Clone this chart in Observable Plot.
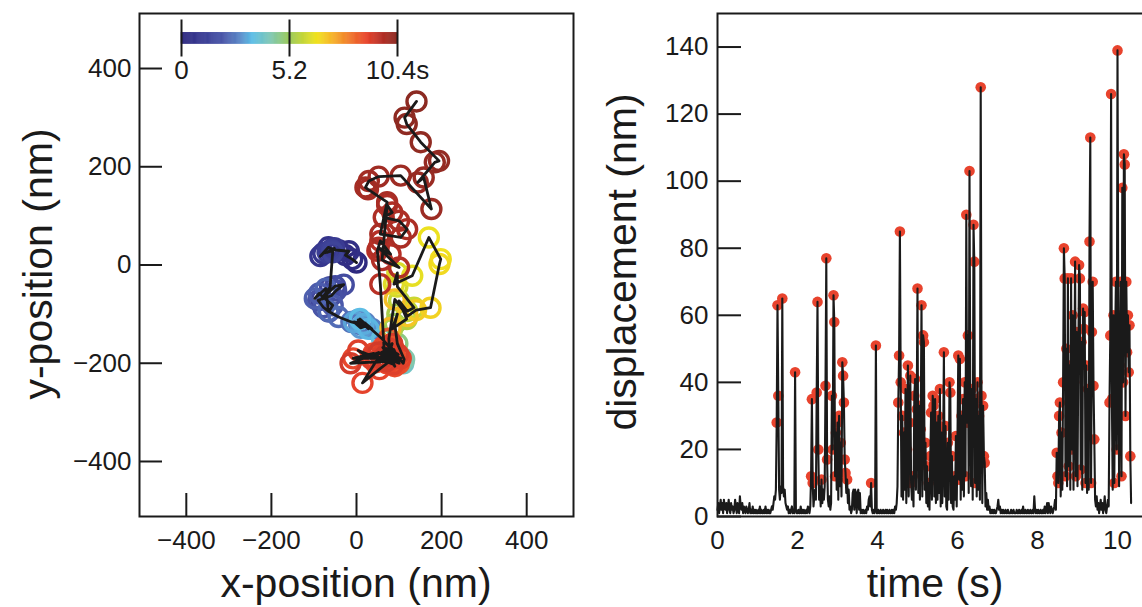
<!DOCTYPE html>
<html><head><meta charset="utf-8">
<script src="https://cdn.jsdelivr.net/npm/d3@7"></script>
<script src="https://cdn.jsdelivr.net/npm/@observablehq/plot@0.6"></script>
<style>
html,body{margin:0;padding:0;background:#fff;}
#root{position:relative;width:1142px;height:607px;overflow:hidden;font-family:"Liberation Sans",Arial,sans-serif;color:#1a1a1a;}
.title{position:absolute;font-size:41px;line-height:41px;white-space:nowrap;transform:translate(-50%,-50%);}
.vt{transform:translate(-50%,-50%) rotate(-90deg);}
</style></head><body><div id="root"></div>
<script>
// ---------- colour bar (time, s) ----------
const cbStops  = [0, 0.1, 0.2, 0.27, 0.33, 0.42, 0.5, 0.57, 0.63, 0.7, 0.78, 0.86, 0.93, 1];
const cbColors = ["#2f2a80","#3a3c93","#4c5aab","#5a86c6","#5cbde6","#82c8b0","#98c85a","#c6d636","#f0e21e","#f6b42a","#f07a2c","#e8442c","#b52f26","#8c2a22"];
const cbMax = 10.4;
const cbTicks = [0, 5.2, 10.4];
const cbLabels = ["0", "5.2", "10.4s"];

// ---------- trajectory (nm) ----------
const posT = [0,0.1,0.2,0.3,0.4,0.5,0.6,0.7,0.8,0.9,1.0,1.1,1.2,1.3,
 1.4,1.47,1.54,1.61,1.68,1.75,1.82,1.89,1.96,2.03,2.1,2.17,2.24,2.31,2.38,2.45,2.52,2.59,2.66,
 2.75,2.85,2.95,3.05,3.15,3.25,3.35,3.45,
 3.6,4.0,4.4,4.8,5.2,
 5.5,5.6,5.7,5.8,5.9,6.0,6.1,6.2,6.3,6.4,6.5,6.6,6.7,6.8,6.9,7.0,7.1,7.2,
 8.6,8.62,8.64,8.66,8.68,8.7,8.72,8.74,8.76,8.78,8.8,8.82,8.84,8.86,8.88,8.9,8.92,8.94,8.96,8.98,9.0,9.02,9.04,9.06,9.08,9.1,9.12,9.14,9.16,9.18,9.2,9.22,9.24,9.26,9.28,
 9.62,9.64,9.66,9.68,9.7,9.72,9.74,9.76,9.78,9.8,9.82,9.84,9.86,9.88,9.9,
 9.93,9.97,10.0,10.04,10.08,10.12,10.16,10.2,10.24,10.28,10.31,10.34,10.37,10.4];
const posXY = [[0,5],[-10,12],[-26,20],[-18,28],[-42,30],[-57,32],[-66,36],[-85,18],[-78,24],[-60,28],[-52,34],[-68,26],[-58,30],[-56,26],
 [-62,-45],[-83,-70],[-50,-43],[-30,-40],[-48,-52],[-58,-62],[-90,-72],[-78,-86],[-65,-95],[-56,-82],[-88,-58],[-98,-68],[-72,-48],[-66,-94],[-42,-106],[-12,-116],[6,-120],[24,-126],[36,-130],
 [20,-118],[4,-112],[22,-124],[10,-128],[-6,-116],[16,-120],[28,-130],[8,-110],
 [60,-150],[110,-200],[112,-192],[96,-160],[90,-120],
 [96,-100],[84,-130],[118,-110],[100,-73],[119,-94],[135,-87],[96,-44],[96,-16],[88,-39],[131,-22],[170,56],[198,12],[195,2],[174,-87],[140,-92],[120,-104],[90,-70],[80,-128],
 [76,-150],[78,-180],[70,-170],[92,-188],[64,-196],[88,-172],[100,-200],[58,-186],[80,-164],[96,-194],[44,-198],[76,-178],[90,-206],[62,-168],[84,-190],[-8,-190],[40,-180],[72,-200],[54,-212],[14,-240],[46,-196],[80,-184],[104,-190],[66,-176],[86,-202],[4,-174],[34,-190],[76,-170],[98,-182],[60,-192],[84,-160],[70,-196],[-14,-200],[52,-178],[66,-186],
 [56,-39],[49,29],[56,49],[80,22],[52,35],[100,-5],[60,10],[72,122],[84,107],[64,97],[100,90],[119,73],[104,56],[56,63],[72,128],
 [27,154],[21,158],[29,171],[52,180],[104,182],[176,114],[158,178],[144,168],[184,209],[194,212],[151,250],[118,287],[113,300],[141,333]];
const xTicksL = [-400,-200,0,200,400];
const yTicksL = [-400,-200,0,200,400];

// ---------- displacement (nm), one sample every 0.02 s ----------
const dt = 0.02;
const disp0 = [2,4,1,3,5,2,4,1,5,3,2,4,1,3,5,2,1,4,2,3,1,2,5,3,1,4,2,1,6,3,2,4,1,3,2,1,3,2,1,2,4,1,2,1,3,1,2,1,2,1];
const disp1 = [1,2,1,3,1,2,1,1,2,1,3,1,2,1,2,1,1,2,3,2,4,6,5,8,28,63,36,8,5,9,7,65,9,6,8,4,3,2,3,1,2,1,2,3,1,2,1,43,2,1];
const disp2 = [1,2,1,1,3,1,2,1,2,1,1,2,1,3,2,1,3,12,35,10,3,6,8,5,37,64,20,5,9,3,11,4,8,5,9,39,77,17,5,3,6,2,4,36,20,66,58,12,25,8];
const disp3 = [28,5,30,9,22,6,46,42,34,17,13,7,11,4,8,2,3,1,2,7,8,2,8,7,1,7,8,2,7,1,2,1,2,1,1,2,1,3,2,5,6,3,10,2,1,2,1,2,51,1];
const disp4 = [1,2,1,1,2,1,1,2,1,1,2,1,2,1,1,2,1,1,2,1,2,1,3,2,4,9,34,48,85,40,6,30,5,25,8,38,4,20,45,6,28,42,10,5,12,3,36,41,8,32];
const disp5 = [68,7,33,5,26,63,6,54,52,8,22,4,15,3,10,2,18,31,5,36,33,6,35,4,28,5,30,7,38,3,25,4,20,49,6,27,3,2,22,5,40,37,4,18,3,2,12,5,24,3];
const disp6 = [24,48,11,47,5,30,8,35,6,40,12,90,28,54,7,103,33,9,38,5,87,76,10,35,6,40,8,30,5,128,36,4,33,18,16,3,7,2,5,2,3,1,2,1,2,1,2,1,1,2];
const disp7 = [3,5,2,3,1,2,1,2,1,1,2,1,1,2,1,1,1,2,1,1,2,1,1,1,2,1,1,2,1,1,2,1,3,1,1,2,1,1,2,1,1,2,1,1,2,1,6,2,1,2];
const disp8 = [1,2,1,1,2,1,1,2,1,3,1,2,4,1,4,2,1,3,2,1,2,3,5,2,19,12,10,30,34,6,25,8,40,80,71,12,50,9,71,15,45,8,71,20,60,8,40,76,12,55];
const disp9 = [9,48,75,71,14,52,8,62,56,61,10,45,7,38,8,82,113,10,55,70,39,23,5,3,6,2,4,1,3,5,2,4,1,3,6,2,1,3,5,3,34,54,126,35,8,60,10,52,70,20];
const disp10 = [139,60,9,45,70,12,98,40,108,105,30,70,49,60,43,57,18,4];
const dotThreshold = 10;
const xTicksR = [0,2,4,6,8,10];
const yTicksR = [0,20,40,60,80,100,120,140];

// ---------- build ----------
const root = document.getElementById("root");
const ink = "#1a1a1a";
const font = "'Liberation Sans', Arial, sans-serif";
const fmt = d => d < 0 ? "\u2212" + (-d) : String(d);
const colorOpts = {type: "linear", domain: cbStops.map(s => s * cbMax), range: cbColors};

const traj = posT.map((t, i) => ({t, x: posXY[i][0], y: posXY[i][1]}));

const leftW = 600, leftML = 139, leftMR = 27, mT = 13, mB = 91, H = 607;
const leftFW = leftW - leftML - leftMR, FH = H - mT - mB;
const left = Plot.plot({
  width: leftW, height: H,
  marginLeft: leftML, marginRight: leftMR, marginTop: mT, marginBottom: mB,
  x: {domain: [-510, 510]},
  y: {domain: [-512, 512]},
  color: colorOpts,
  style: {fontFamily: font, fontSize: "26px", color: ink, background: "transparent", overflow: "visible"},
  marks: [
    Plot.dot(traj, {x: "x", y: "y", r: 9.5, stroke: "t", strokeWidth: 3.4, fill: "none"}),
    Plot.line(traj, {x: "x", y: "y", stroke: ink, strokeWidth: 2.8}),
    Plot.tickY(yTicksL, {y: d => d, insetRight: leftFW - 23, stroke: ink, strokeWidth: 2}),
    Plot.tickX(xTicksL, {x: d => d, insetTop: FH - 23, stroke: ink, strokeWidth: 2}),
    Plot.axisX(xTicksL, {tickSize: 0, tickPadding: 14, tickFormat: fmt, label: null}),
    Plot.axisY(yTicksL, {tickSize: 0, tickPadding: 8, tickFormat: fmt, label: null}),
    Plot.frame({stroke: ink, strokeWidth: 2})
  ]
});
left.style.position = "absolute"; left.style.left = "0px"; left.style.top = "0px";
root.appendChild(left);

const series = [disp0, disp1, disp2, disp3, disp4, disp5, disp6, disp7, disp8, disp9, disp10]
  .flat().map((d, i) => ({t: i * dt, d}));

const rightW = 560, rightML = 117, rightMR = 0;
const rightFW = rightW - rightML - rightMR;
const right = Plot.plot({
  width: rightW, height: H,
  marginLeft: rightML, marginRight: rightMR, marginTop: mT, marginBottom: mB,
  x: {domain: [0, rightFW / 40]},
  y: {domain: [0, 150]},
  style: {fontFamily: font, fontSize: "26px", color: ink, background: "transparent", overflow: "visible"},
  marks: [
    Plot.dot(series.filter(p => p.d >= dotThreshold), {x: "t", y: "d", r: 5.3, fill: "#e8432d"}),
    Plot.line(series, {x: "t", y: "d", stroke: ink, strokeWidth: 2.1}),
    Plot.tickY(yTicksR, {y: d => d, insetRight: rightFW - 24, stroke: ink, strokeWidth: 2}),
    Plot.axisX(xTicksR, {tickSize: 0, tickPadding: 14, label: null}),
    Plot.axisY(yTicksR, {tickSize: 0, tickPadding: 9, label: null}),
    Plot.frame({stroke: ink, strokeWidth: 2})
  ]
});
right.style.position = "absolute"; right.style.left = "600px"; right.style.top = "0px";
root.appendChild(right);

// colour bar legend
const rampSteps = d3.range(0, 200).map(i => [i * cbMax / 200, (i + 1) * cbMax / 200]);
const cb = Plot.plot({
  width: 450, height: 100,
  marginLeft: 181, marginRight: 53, marginTop: 32.5, marginBottom: 56.5,
  x: {domain: [0, cbMax], axis: null},
  y: {domain: [0, 1], axis: null},
  color: colorOpts,
  style: {fontFamily: font, fontSize: "26px", color: ink, background: "transparent", overflow: "visible"},
  marks: [
    Plot.barX(rampSteps, {x1: d => d[0], x2: d => d[1], fill: d => (d[0] + d[1]) / 2, stroke: d => (d[0] + d[1]) / 2, strokeWidth: 0.6}),
    Plot.tickX(cbTicks, {x: d => d, insetTop: -13, insetBottom: -13, stroke: ink, strokeWidth: 2}),
    Plot.text(cbTicks, {x: d => d, frameAnchor: "bottom", lineAnchor: "top", dy: 16.5, text: (d, i) => cbLabels[i], fill: ink})
  ]
});
cb.style.position = "absolute"; cb.style.left = "0px"; cb.style.top = "0px";
root.appendChild(cb);

// axis titles
function title(txt, cx, cy, vertical) {
  const el = document.createElement("div");
  el.className = "title" + (vertical ? " vt" : "");
  el.textContent = txt;
  el.style.left = cx + "px"; el.style.top = cy + "px";
  root.appendChild(el);
}
title("x-position (nm)", 356, 583, false);
title("time (s)", 935, 583, false);
title("y-position (nm)", 38, 264, true);
title("displacement (nm)", 622, 262, true);
</script></body></html>
